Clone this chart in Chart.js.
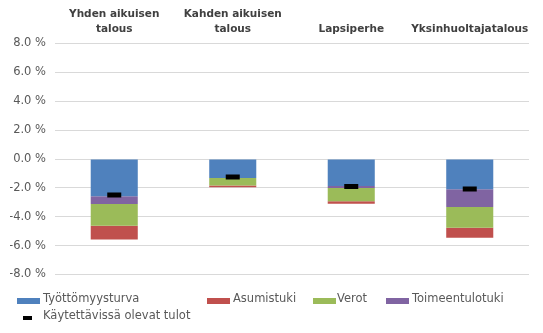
<!DOCTYPE html>
<html>
<head>
<meta charset="utf-8">
<script src="https://cdn.jsdelivr.net/npm/chart.js@4.4.1/dist/chart.umd.min.js"></script>
<style>
  html, body { margin: 0; padding: 0; background: #ffffff; }
  #wrap { width: 543px; height: 333px; position: relative; }
</style>
</head>
<body>
<div id="wrap"><canvas id="c" width="543" height="333"></canvas></div>
<script>
const categories = [["Yhden aikuisen", "talous"], ["Kahden aikuisen", "talous"], "Lapsiperhe", "Yksinhuoltajatalous"];
const tyottomyysturva = [-2.58, -1.32, -1.87, -2.10];
const toimeentulotuki = [-0.53, 0, -0.14, -1.23];
const verot = [-1.52, -0.51, -0.91, -1.44];
const asumistuki = [-0.94, -0.13, -0.18, -0.69];
const kaytettavissa = [-2.50, -1.24, -1.90, -2.07];
const yTicks = [-8, -6, -4, -2, 0, 2, 4, 6, 8];

const legendOrder = [
  { label: "Työttömyysturva", color: "#4f81bd", sx: 17, tx: 43, row: 0, w: 23, h: 6 },
  { label: "Asumistuki", color: "#c0504d", sx: 207, tx: 233, row: 0, w: 23, h: 6 },
  { label: "Verot", color: "#9bbb59", sx: 313, tx: 337, row: 0, w: 23, h: 6 },
  { label: "Toimeentulotuki", color: "#8064a2", sx: 386, tx: 412, row: 0, w: 23, h: 6 },
  { label: "Käytettävissä olevat tulot", color: "#000000", sx: 23, tx: 43, row: 1, w: 9, h: 4 }
];

const excelLegend = {
  id: 'excelLegend',
  afterDraw(chart) {
    const ctx = chart.ctx;
    ctx.save();
    ctx.font = '11.5px "DejaVu Sans"';
    ctx.textBaseline = 'middle';
    legendOrder.forEach(it => {
      const cy = it.row === 0 ? 300 : 317;
      ctx.fillStyle = it.color;
      ctx.fillRect(it.sx, cy - it.h / 2 + 1, it.w, it.h);
      ctx.fillStyle = '#595959';
      ctx.fillText(it.label, it.tx, cy - 1);
    });
    ctx.restore();
  }
};

Chart.defaults.font.family = '"DejaVu Sans", sans-serif';

new Chart(document.getElementById('c'), {
  data: {
    labels: categories,
    datasets: [
      { type: 'line', label: 'Käytettävissä olevat tulot', data: kaytettavissa, showLine: false,
        pointStyle: 'line', pointRadius: 7, pointHoverRadius: 7, borderColor: '#000000', pointBorderWidth: 5,
        backgroundColor: '#000000', stack: 'marker', order: -1 },
      { type: 'bar', label: 'Työttömyysturva', data: tyottomyysturva, backgroundColor: '#4f81bd', stack: 's' },
      { type: 'bar', label: 'Toimeentulotuki', data: toimeentulotuki, backgroundColor: '#8064a2', stack: 's' },
      { type: 'bar', label: 'Verot', data: verot, backgroundColor: '#9bbb59', stack: 's' },
      { type: 'bar', label: 'Asumistuki', data: asumistuki, backgroundColor: '#c0504d', stack: 's' }
    ]
  },
  options: {
    responsive: false,
    animation: false,
    devicePixelRatio: 1,
    layout: { padding: { left: 10, right: 14, top: 0, bottom: 58.5 } },
    datasets: { bar: { barPercentage: 0.397, categoryPercentage: 1 } },
    plugins: { legend: { display: false }, tooltip: { enabled: false } },
    scales: {
      x: {
        position: 'top',
        stacked: true,
        grid: { display: false, drawTicks: false },
        border: { display: false },
        ticks: { color: '#404040', font: { size: 10.5, weight: 'bold', lineHeight: 1.38 }, padding: 7, maxRotation: 0, autoSkip: false },
        afterFit(s) { s.height = 43.5; }
      },
      y: {
        stacked: true,
        min: -8, max: 8,
        afterBuildTicks(s) { s.ticks = yTicks.map(v => ({ value: v })); },
        grid: { color: '#d9d9d9', drawTicks: false, lineWidth: 1 },
        border: { display: false },
        ticks: { color: '#595959', font: { size: 11.5 }, padding: 9, callback: v => Number(v).toFixed(1) + ' %' },
        afterFit(s) { s.width = 45; }
      }
    }
  },
  plugins: [excelLegend]
});
</script>
</body>
</html>
